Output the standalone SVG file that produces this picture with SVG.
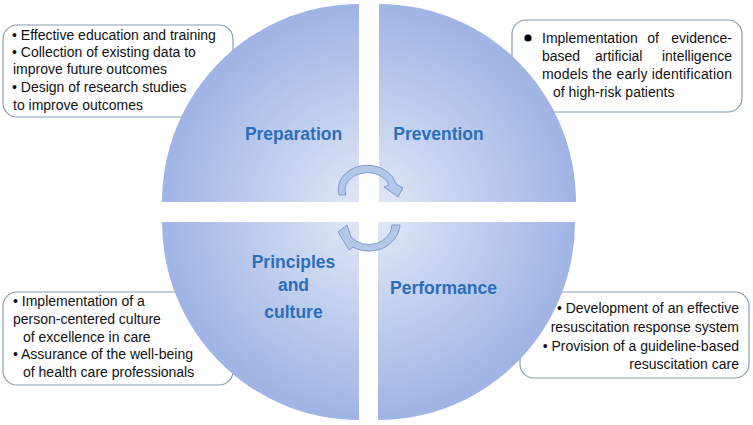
<svg xmlns="http://www.w3.org/2000/svg" width="753" height="425" viewBox="0 0 753 425">
<style>
.box{fill:#ffffff;stroke:#8a9bb5;stroke-width:1.2}
.q{fill:url(#qg)}
.t{font-family:"Liberation Sans",Arial,sans-serif;font-size:14px;fill:#111111}
.h{font-family:"Liberation Sans",Arial,sans-serif;font-size:17.5px;font-weight:bold;fill:#2a6fbb;text-anchor:middle}
.arr{fill:#b5c7e9;stroke:#7f9acb;stroke-width:1}
</style>
<defs>
<radialGradient id="qg" gradientUnits="userSpaceOnUse" cx="369" cy="212" r="205">
<stop offset="0" stop-color="#e4eaf7"/>
<stop offset="1" stop-color="#a0b5e5"/>
</radialGradient>
</defs>
<rect width="753" height="425" fill="#ffffff"/>
<g id="box-preparation">
<rect class="box" x="3" y="25" width="230" height="92" rx="14"/>
<text class="t" x="12" y="40">• Effective education and training</text>
<text class="t" x="12" y="57">• Collection of existing data to</text>
<text class="t" x="13" y="74">improve future outcomes</text>
<text class="t" x="12" y="92">• Design of research studies</text>
<text class="t" x="13" y="110">to improve outcomes</text>
</g>
<g id="box-prevention">
<rect class="box" x="512" y="20" width="230" height="92" rx="14"/>
<circle cx="528" cy="38" r="3.6" fill="#000"/>
<text class="t" x="542" y="43">Implementation</text>
<text class="t" x="653" y="43" text-anchor="middle">of</text>
<text class="t" x="732" y="43" text-anchor="end">evidence-</text>
<text class="t" x="542" y="61">based</text>
<text class="t" x="595" y="61">artificial</text>
<text class="t" x="732" y="61" text-anchor="end">intelligence</text>
<text class="t" x="542" y="79" textLength="190" lengthAdjust="spacing">models the early identification</text>
<text class="t" x="553" y="97">of high-risk patients</text>
</g>
<g id="box-principles">
<rect class="box" x="3" y="292" width="230" height="93" rx="14"/>
<text class="t" x="13" y="306">• Implementation of a</text>
<text class="t" x="13" y="324">person-centered culture</text>
<text class="t" x="23" y="342">of excellence in care</text>
<text class="t" x="13" y="359">• Assurance of the well-being</text>
<text class="t" x="23" y="377">of health care professionals</text>
</g>
<g id="box-performance">
<rect class="box" x="520" y="292" width="229" height="86" rx="14"/>
<text class="t" x="739" y="313" text-anchor="end">• Development of an effective</text>
<text class="t" x="739" y="332" text-anchor="end">resuscitation response system</text>
<text class="t" x="739" y="351" text-anchor="end">• Provision of a guideline-based</text>
<text class="t" x="739" y="369" text-anchor="end">resuscitation care</text>
</g>
<g id="quadrant-preparation">
<path class="q" d="M359,202 L162,202 A197,198 0 0 1 359,4 Z"/>
<text class="h" x="293.5" y="140">Preparation</text>
</g>
<g id="quadrant-prevention">
<path class="q" d="M379,202 L379,4 A197,198 0 0 1 576,202 Z"/>
<text class="h" x="438.5" y="140">Prevention</text>
</g>
<g id="quadrant-principles">
<path class="q" d="M359,222 L359,420 A197,198 0 0 1 162,222 Z"/>
<text class="h" x="293.5" y="268">Principles</text>
<text class="h" x="293.5" y="291">and</text>
<text class="h" x="293.5" y="318">culture</text>
</g>
<g id="quadrant-performance">
<path class="q" d="M378,222 L575,222 A197,198 0 0 1 378,420 Z"/>
<text class="h" x="443.5" y="294">Performance</text>
</g>
<g id="connectors">
<path class="arr" d="M339,195 A29,24 0 0 1 396,184 L403,188 L398,197 L384,187 L389,185 A22,17 0 0 0 346,195 Z"/>
<path class="arr" d="M400,225 A31,28 0 0 1 353,247 L349,250 L338,232 L347,225 L351,237 A23,20 0 0 0 392,225 Z"/>
</g>
</svg>
